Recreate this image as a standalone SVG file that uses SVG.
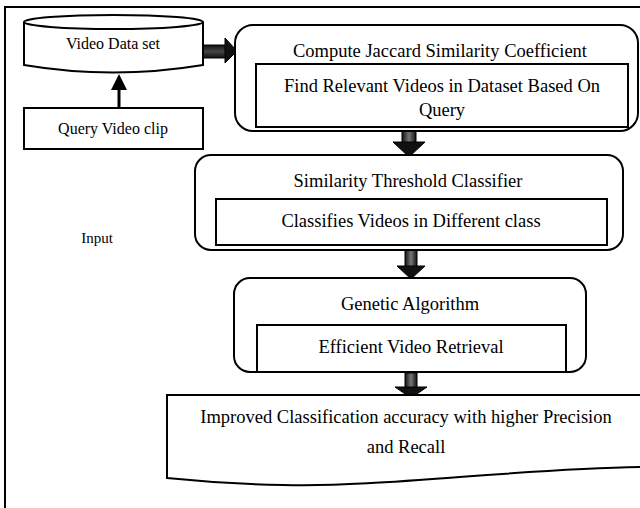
<svg xmlns="http://www.w3.org/2000/svg" width="640" height="508" viewBox="0 0 640 508">
<style>
.box{fill:#fff;stroke:#000;stroke-width:2}
.t{font-family:"Liberation Serif","Times New Roman",serif;fill:#000;text-anchor:middle}
.s16{font-size:16px}
.s18{font-size:18.5px}
.ba{stroke:#000;stroke-width:1}
.hd{fill:#111;stroke:#000;stroke-width:1}
</style>
<defs>
<linearGradient id="gv" x1="0" y1="0" x2="1" y2="0">
<stop offset="0" stop-color="#111"/><stop offset="0.5" stop-color="#777"/><stop offset="1" stop-color="#111"/>
</linearGradient>
<linearGradient id="gh" x1="0" y1="0" x2="0" y2="1">
<stop offset="0" stop-color="#111"/><stop offset="0.5" stop-color="#444"/><stop offset="1" stop-color="#111"/>
</linearGradient>
</defs>
<rect x="5" y="7" width="660" height="530" fill="#fff" stroke="#000" stroke-width="2"/>

<g id="connectors">
<line x1="119" y1="108" x2="119" y2="89" stroke="#000" stroke-width="3"/>
<path d="M111,90 L119,74 L127,90 Z" fill="#000"/>
<path d="M202,45 L226,45 L226,58 L202,58 Z" fill="url(#gh)" class="ba"/>
<path d="M225,38 L237,51 L225,63 Z" class="hd"/>
<path d="M402,131 L416,131 L416,143 L402,143 Z" fill="url(#gv)" class="ba"/>
<path d="M393,142 L425,142 L409,157 Z" class="hd"/>
<path d="M405,250 L417,250 L417,267 L405,267 Z" fill="url(#gv)" class="ba"/>
<path d="M397,266 L425,266 L411,279 Z" class="hd"/>
<path d="M405,373 L417,373 L417,388 L405,388 Z" fill="url(#gv)" class="ba"/>
<path d="M395,387 L427,387 L411,398 Z" class="hd"/>
</g>

<g id="dataset">
<path d="M24,22 L24,65 Q113,80 203,65 L203,22" class="box"/>
<ellipse cx="113.5" cy="22" rx="89.5" ry="7" class="box"/>
<text x="113" y="49" class="t s16">Video Data set</text>
</g>

<g id="query">
<rect x="24" y="108" width="179" height="41" class="box"/>
<text x="113" y="134" class="t s16">Query Video clip</text>
</g>

<g id="input">
<text x="97" y="243" class="t" font-size="15">Input</text>
</g>

<g id="jaccard">
<rect x="235" y="25" width="403" height="106" rx="18" class="box"/>
<text x="440" y="57" class="t s18">Compute Jaccard Similarity Coefficient</text>
<rect x="256" y="64" width="372" height="63" class="box"/>
<text x="442" y="92" class="t s18">Find Relevant Videos in Dataset Based On</text>
<text x="442" y="116" class="t s18">Query</text>
</g>

<g id="threshold">
<rect x="195" y="155" width="428" height="95" rx="16" class="box"/>
<text x="408" y="187" class="t s18">Similarity Threshold Classifier</text>
<rect x="216" y="199" width="391" height="46" class="box"/>
<text x="411" y="227" class="t s18">Classifies Videos in Different class</text>
</g>

<g id="genetic">
<rect x="234" y="278" width="352" height="94" rx="16" class="box"/>
<text x="410" y="310" class="t s18">Genetic Algorithm</text>
<rect x="257" y="325" width="309" height="47" class="box"/>
<text x="411" y="353" class="t s18">Efficient Video Retrieval</text>
</g>

<g id="result">
<path d="M167,395 H645 V467 C520,468 380,488 283,485 Q225,484 167,478 Z" class="box"/>
<text x="406" y="423" class="t s18">Improved Classification accuracy with higher Precision</text>
<text x="406" y="453" class="t s18">and Recall</text>
</g>
</svg>
